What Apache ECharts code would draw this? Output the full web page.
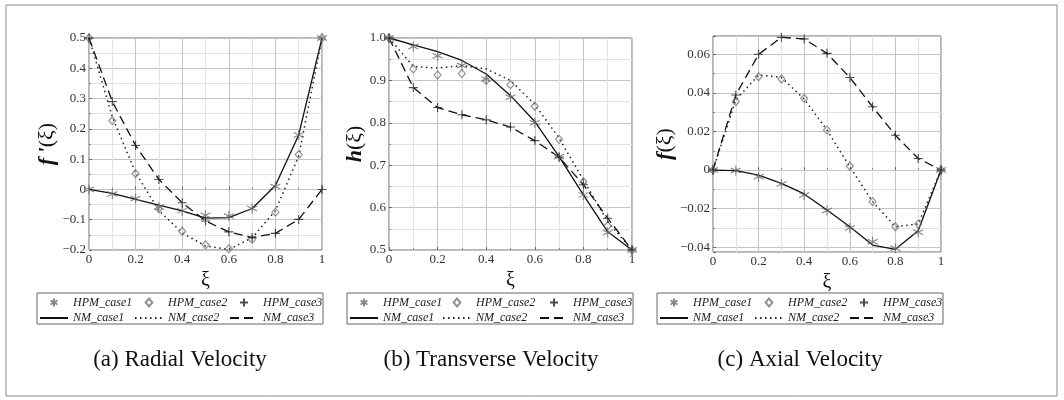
<!DOCTYPE html>
<html>
<head>
<meta charset="utf-8">
<script src="https://cdn.jsdelivr.net/npm/echarts@6/dist/echarts.min.js"></script>
<style>
  html, body { margin: 0; padding: 0; background: #fff; }
  #chart { width: 1064px; height: 400px; }
</style>
</head>
<body>
<div id="chart"></div>
<script>
// ξ 取值点
const xi = [0, 0.1, 0.2, 0.3, 0.4, 0.5, 0.6, 0.7, 0.8, 0.9, 1];

// (a) 径向速度 f'(ξ)
const radialHpm1 = [0, -0.015, -0.03, -0.058, -0.07, -0.085, -0.088, -0.063, 0.01, 0.18, 0.5];
const radialHpm2 = [0.5, 0.227, 0.052, -0.064, -0.138, -0.183, -0.196, -0.165, -0.075, 0.115, 0.5];
const radialHpm3 = [0.5, 0.29, 0.145, 0.033, -0.044, -0.104, -0.14, -0.159, -0.145, -0.099, 0];
const radialNm1 = [0, -0.013, -0.033, -0.052, -0.071, -0.095, -0.093, -0.063, 0.013, 0.18, 0.5];
const radialNm2 = [0.5, 0.24, 0.055, -0.07, -0.143, -0.187, -0.198, -0.16, -0.07, 0.11, 0.5];
const radialNm3 = [0.5, 0.29, 0.145, 0.033, -0.044, -0.104, -0.14, -0.159, -0.145, -0.099, 0];

// (b) 横向速度 h(ξ)
const transHpm1 = [1, 0.98, 0.958, 0.935, 0.903, 0.86, 0.8, 0.72, 0.63, 0.541, 0.5];
const transHpm2 = [1, 0.927, 0.913, 0.916, 0.9, 0.89, 0.839, 0.761, 0.661, 0.557, 0.5];
const transHpm3 = [1, 0.883, 0.836, 0.819, 0.807, 0.79, 0.758, 0.719, 0.654, 0.575, 0.5];
const transNm1 = [1, 0.984, 0.968, 0.947, 0.915, 0.864, 0.803, 0.72, 0.63, 0.543, 0.5];
const transNm2 = [1, 0.933, 0.929, 0.935, 0.927, 0.9, 0.843, 0.764, 0.665, 0.567, 0.5];
const transNm3 = [1, 0.883, 0.836, 0.819, 0.807, 0.79, 0.758, 0.719, 0.654, 0.575, 0.5];

// (c) 轴向速度 f(ξ)
const axialHpm1 = [0, -0.0003, -0.0035, -0.0073, -0.013, -0.021, -0.030, -0.0372, -0.0406, -0.0323, 0];
const axialHpm2 = [0, 0.0354, 0.0484, 0.0472, 0.0372, 0.0207, 0.0021, -0.0164, -0.0294, -0.028, 0];
const axialHpm3 = [0, 0.0389, 0.06, 0.0688, 0.068, 0.0605, 0.048, 0.0328, 0.018, 0.006, 0];
const axialNm1 = [0, -0.0003, -0.0026, -0.0069, -0.0124, -0.0207, -0.0294, -0.0389, -0.0411, -0.0315, 0];
const axialNm2 = [0, 0.0363, 0.0493, 0.048, 0.0368, 0.0207, 0.0017, -0.0164, -0.0294, -0.028, 0];
const axialNm3 = [0, 0.0389, 0.06, 0.0688, 0.068, 0.0605, 0.048, 0.0328, 0.018, 0.006, 0];

const captions = ['(a) Radial Velocity', '(b) Transverse Velocity', '(c) Axial Velocity'];

const SERIF = '"Liberation Serif", "DejaVu Serif", serif';
const STAR = 'path://M0,-1L0,1M-0.866,-0.5L0.866,0.5M-0.866,0.5L0.866,-0.5';
const PLUS = 'path://M0,-1L0,1M-1,0L1,0';
const DIAMOND = 'path://M0,-1L0.85,0L0,1L-0.85,0Z';

const pair = (ys) => ys.map((y, i) => [xi[i], y]);
const minusFmt = (v) => (v < 0 ? '\u2212' + String(Math.abs(+v.toFixed(4))) : String(+v.toFixed(4)));
const oneDec = (v) => v.toFixed(1);

// 三个子图的布局
const panels = [
  { grid: { left: 89, top: 38, width: 233, height: 212 },
    y: { min: -0.2, max: 0.5, interval: 0.1 }, fmt: minusFmt,
    name: '{i|f\u2009\'}{n|(\u03be)}', nameGap: 21,
    data: [radialHpm1, radialHpm2, radialHpm3, radialNm1, radialNm2, radialNm3],
    legendLeft: [39, 134, 229], box: 37, cap: 180 },
  { grid: { left: 389, top: 38, width: 243, height: 212 },
    y: { min: 0.5, max: 1.0, interval: 0.1 }, fmt: oneDec,
    name: '{i|h}{n|(\u03be)}', nameGap: 13,
    data: [transHpm1, transHpm2, transHpm3, transNm1, transNm2, transNm3],
    legendLeft: [349, 442, 539], box: 347, cap: 491 },
  { grid: { left: 713, top: 36, width: 228, height: 216 },
    y: { min: -0.0425, max: 0.0695, splitNumber: 5, minInterval: 0.02, maxInterval: 0.02 }, fmt: minusFmt,
    name: '{i|f}{n|(\u03be)}', nameGap: 26,
    data: [axialHpm1, axialHpm2, axialHpm3, axialNm1, axialNm2, axialNm3],
    legendLeft: [659, 754, 849], box: 657, cap: 800 }
];

const grids = [], xAxes = [], yAxes = [], series = [], legends = [], graphics = [];

panels.forEach((p, k) => {
  grids.push(Object.assign({ show: true, borderColor: '#6a6a6a', borderWidth: 1, backgroundColor: '#fff' }, p.grid));

  xAxes.push({
    type: 'value', gridIndex: k, min: 0, max: 1, interval: 0.2,
    name: '\u03be', nameLocation: 'middle', nameGap: 16,
    nameTextStyle: { fontFamily: SERIF, fontSize: 20, color: '#111' },
    axisLine: { show: false },
    axisTick: { show: true, inside: true, length: 3, lineStyle: { color: '#666' } },
    minorTick: { show: true, splitNumber: 2, length: 2, lineStyle: { color: '#888' } },
    axisLabel: { fontFamily: SERIF, fontSize: 13, color: '#333', margin: 3, formatter: minusFmt },
    splitLine: { show: true, lineStyle: { color: '#c4c4c4', width: 1 } },
    minorSplitLine: { show: true, lineStyle: { color: '#e2e2e2', width: 1 } }
  });

  yAxes.push(Object.assign({
    type: 'value', gridIndex: k,
    name: p.name, nameLocation: 'middle', nameGap: p.nameGap, nameRotate: 90,
    nameTextStyle: {
      rich: {
        i: { fontFamily: SERIF, fontSize: 22, fontStyle: 'italic', fontWeight: 'bold', color: '#111' },
        n: { fontFamily: SERIF, fontSize: 22, color: '#111' }
      }
    },
    axisLine: { show: false },
    axisTick: { show: true, inside: true, length: 3, lineStyle: { color: '#666' } },
    minorTick: { show: true, splitNumber: 2, length: 2, lineStyle: { color: '#888' } },
    axisLabel: { fontFamily: SERIF, fontSize: 13, color: '#333', margin: 3, formatter: p.fmt,
                 showMinLabel: k !== 2, showMaxLabel: k !== 2 },
    splitLine: { show: true, lineStyle: { color: '#c4c4c4', width: 1 } },
    minorSplitLine: { show: true, lineStyle: { color: '#e2e2e2', width: 1 } }
  }, p.y));

  const [h1, h2, h3, n1, n2, n3] = p.data;
  const base = { xAxisIndex: k, yAxisIndex: k, animation: false, z: 3 };
  const hidden = { color: 'rgba(0,0,0,0)', borderWidth: 0 };
  series.push(
    Object.assign({ name: 'NM_case1', type: 'line', data: pair(n1), symbol: 'none', itemStyle: hidden,
      lineStyle: { color: '#111', width: 1.3, type: 'solid' } }, base),
    Object.assign({ name: 'NM_case2', type: 'line', data: pair(n2), symbol: 'none', itemStyle: hidden,
      lineStyle: { color: '#222', width: 1.5, type: [1.5, 3.5] } }, base),
    Object.assign({ name: 'NM_case3', type: 'line', data: pair(n3), symbol: 'none', itemStyle: hidden,
      lineStyle: { color: '#111', width: 1.3, type: [9, 5] } }, base),
    Object.assign({ name: 'HPM_case1', type: 'scatter', data: pair(h1), symbol: STAR, symbolSize: 10,
      itemStyle: { color: 'none', borderColor: '#666', borderWidth: 1.1 } }, base, { z: 4 }),
    Object.assign({ name: 'HPM_case2', type: 'scatter', data: pair(h2), symbol: DIAMOND, symbolSize: [7, 8],
      itemStyle: { color: 'none', borderColor: '#777', borderWidth: 1.2 } }, base, { z: 4 }),
    Object.assign({ name: 'HPM_case3', type: 'scatter', data: pair(h3), symbol: PLUS, symbolSize: 9,
      itemStyle: { color: 'none', borderColor: '#222', borderWidth: 1.1 } }, base, { z: 4 })
  );

  // 每个子图三列图例：HPM 在上，NM 在下
  [1, 2, 3].forEach((c, j) => {
    legends.push({
      data: ['HPM_case' + c, 'NM_case' + c],
      orient: 'vertical', left: p.legendLeft[j], top: 296, padding: 0,
      itemWidth: 28, itemHeight: 8, itemGap: 3, selectedMode: false, symbolKeepAspect: true,
      textStyle: { fontFamily: SERIF, fontStyle: 'italic', fontSize: 12, color: '#222' }
    });
  });

  graphics.push({
    type: 'rect', shape: { x: p.box, y: 293, width: 286, height: 31 },
    style: { fill: 'none', stroke: '#666', lineWidth: 1 }, silent: true
  });
  graphics.push({
    type: 'text', x: p.cap, y: 360,
    style: { text: captions[k], font: '23px ' + SERIF, fill: '#111', textAlign: 'center', textVerticalAlign: 'middle' }
  });
});

// 外框
graphics.push({
  type: 'rect', shape: { x: 6, y: 5, width: 1051, height: 391 },
  style: { fill: 'none', stroke: '#8a8a8a', lineWidth: 1 }, silent: true
});

const chart = echarts.init(document.getElementById('chart'));
chart.setOption({
  animation: false,
  backgroundColor: '#fff',
  grid: grids,
  xAxis: xAxes,
  yAxis: yAxes,
  legend: legends,
  series: series,
  graphic: graphics
});
</script>
</body>
</html>
